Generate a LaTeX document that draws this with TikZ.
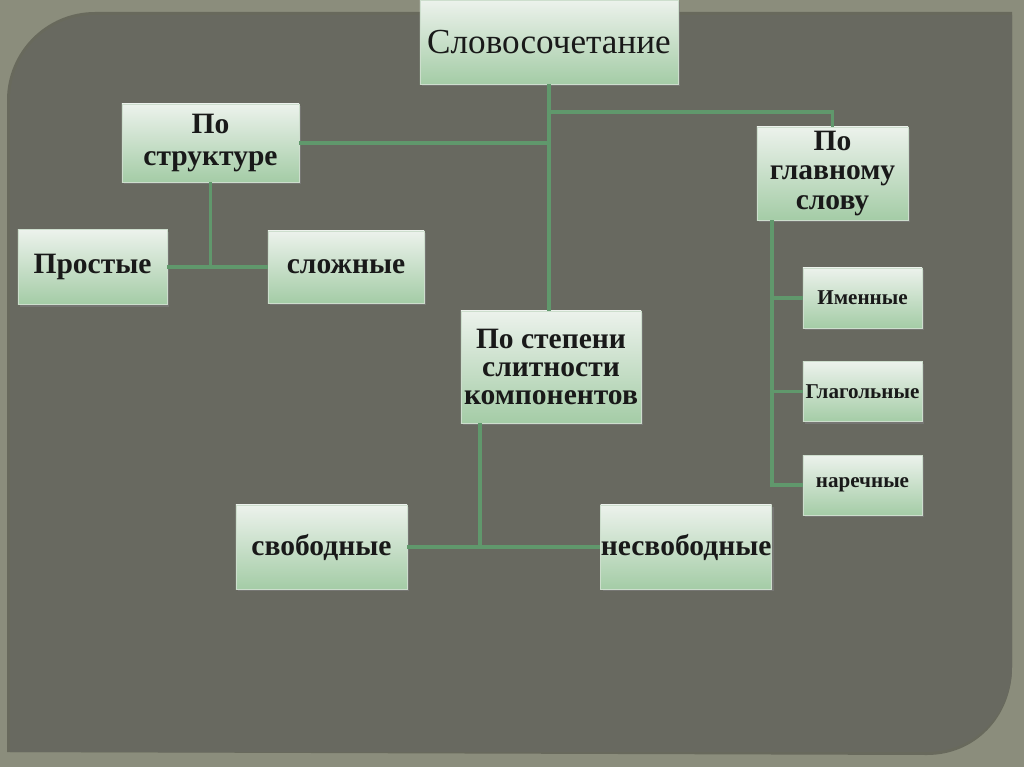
\documentclass[tikz,border=0pt]{standalone}
\usepackage{fontspec}
\setmainfont{Liberation Serif}
\usepackage{tikz}
\usetikzlibrary{positioning,calc,shadows}

\definecolor{frame}{RGB}{139,141,124}
\definecolor{panel}{RGB}{104,105,96}
\definecolor{boxtop}{RGB}{236,242,236}
\definecolor{boxbot}{RGB}{164,204,166}
\definecolor{boxline}{RGB}{205,222,205}
\definecolor{linkgreen}{RGB}{96,152,108}

\begin{document}
\begin{tikzpicture}[
    x=0.025cm, y=-0.025cm,
    box/.style={rectangle, draw=boxline, line width=0.4pt, top color=boxtop, bottom color=boxbot,
        inner sep=0pt, align=center, text=black!90,
        drop shadow={shadow xshift=1.5pt, shadow yshift=-1.5pt, opacity=0.6}},
    mainbox/.style={box, font=\fontsize{21}{20}\selectfont\bfseries},
    subbox/.style={box, font=\fontsize{15}{18}\selectfont\bfseries, minimum width=2.975cm, minimum height=1.5cm},
    link/.style={draw=linkgreen, line width=2.6pt}
]
\useasboundingbox (0,0) rectangle (1024,767);

% Background
\fill[frame] (0,0) rectangle (1024,767);
\fill[black, opacity=0.25] (7,752) -- (7,100) .. controls (7,52) and (46,12) .. (95,12) -- (1012,12) -- (1012,667) .. controls (1012,717) and (975,755) .. (927,755) -- cycle;
\fill[panel] (10,752) -- (10,100) .. controls (10,53) and (48,15) .. (95,15) -- (1012,15) -- (1012,667) .. controls (1012,714) and (974,752) .. (927,752) -- cycle;

% Root
\node[box, font=\fontsize{25}{28}\selectfont, minimum width=6.45cm, minimum height=2.1cm] (title) at (549,42) {Словосочетание};

% By structure
\node[mainbox, font=\fontsize{21}{23}\selectfont\bfseries, minimum width=4.425cm, minimum height=1.95cm] (struct) at (210.5,143) {По\\структуре};
\node[mainbox, minimum width=3.725cm, minimum height=1.875cm] (prostye) at (92.5,267) {Простые};
\node[mainbox, minimum width=3.9cm, minimum height=1.8cm] (slozhnye) at (346,267) {сложные};

% By main word
\node[mainbox, font=\fontsize{21}{21}\selectfont\bfseries, minimum width=3.775cm, minimum height=2.325cm] (glavn) at (832.5,173.5) {По\\главному\\слову};
\node[subbox] (imen) at (862.5,298) {Именные};
\node[subbox, below=0.825cm of imen] (glag) {Глагольные};
\node[subbox, below=0.825cm of glag] (narech) {наречные};

% By degree of cohesion
\node[mainbox, minimum width=4.5cm, minimum height=2.8cm] (stepen) at (551,367) {По степени\\слитности\\компонентов};
\node[mainbox, minimum width=4.275cm, minimum height=2.1cm] (svob) at (321.5,547) {свободные};
\node[mainbox, minimum width=4.275cm, minimum height=2.1cm, right=4.825cm of svob] (nesvob) {несвободные};

% Connections
\coordinate (jtop) at (550,112);
\draw[link] (title.south) -- (title.south |- stepen.north);
\draw[link] (struct.east) -- (struct.east -| title.south);
\draw[link] (jtop) -- (jtop -| glavn.north) -- (glavn.north);

\draw[link] (struct.south) -- (struct.south |- prostye.east);
\draw[link] (prostye.east) -- (slozhnye.west);

\coordinate (rjoin) at ($(glavn.south west)+(15,0)$);
\draw[link] (rjoin) -- (rjoin |- narech.west) -- (narech.west);
\draw[link] (rjoin |- imen.west) -- (imen.west);
\draw[link] (rjoin |- glag.west) -- (glag.west);

\coordinate (mjoin) at ($(stepen.south west)+(19,0)$);
\draw[link] (mjoin) -- (mjoin |- svob.east);
\draw[link] (svob.east) -- (nesvob.west);

\end{tikzpicture}
\end{document}
